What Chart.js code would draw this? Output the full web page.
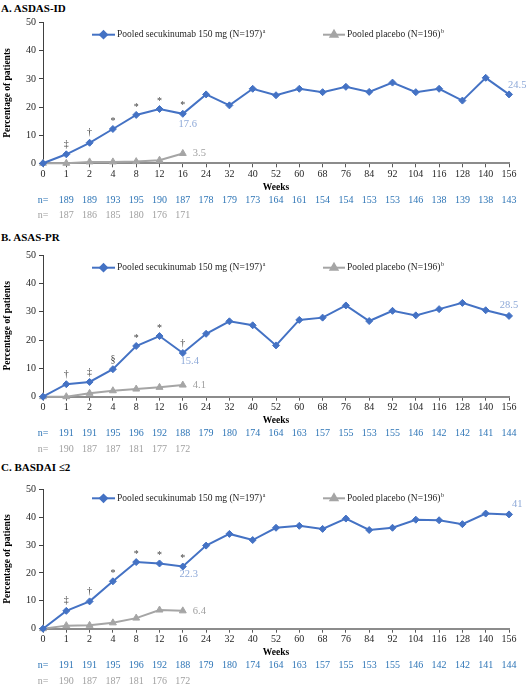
<!DOCTYPE html>
<html>
<head>
<meta charset="utf-8">
<script src="https://cdn.jsdelivr.net/npm/chart.js@4.4.0/dist/chart.umd.min.js"></script>
<style>
    body { margin: 0; background: #fff; width: 528px; height: 685px; position: relative; overflow: hidden; font-family: "Liberation Serif", serif; }
    .panel-title { position: absolute; left: 1px; font-weight: bold; font-size: 11px; line-height: 14px; color: #000; }
    canvas { position: absolute; left: 0; }
</style>
</head>
<body>
<div class="panel-title" style="top:1px">A. ASDAS-ID</div>
<canvas id="chartA" width="528" height="226" style="top:0px"></canvas>
<div class="panel-title" style="top:230px">B. ASAS-PR</div>
<canvas id="chartB" width="528" height="226" style="top:232px"></canvas>
<div class="panel-title" style="top:460px">C. BASDAI ≤2</div>
<canvas id="chartC" width="528" height="219" style="top:466px"></canvas>
<script>
    const weeks = ['0', '1', '2', '4', '8', '12', '16', '24', '32', '40', '52', '60', '68', '76', '84', '92', '104', '116', '128', '140', '156'];

    // A. ASDAS-ID
    const asdasSecu = [0, 3.2, 7.3, 12.2, 17.2, 19.3, 17.6, 24.5, 20.6, 26.5, 24.2, 26.5, 25.3, 27.2, 25.4, 28.7, 25.3, 26.5, 22.3, 30.4, 24.5];
    const asdasPbo = [0, 0, 0.5, 0.5, 0.6, 1.1, 3.5];
    const asdasNSecu = [189, 189, 193, 195, 190, 187, 178, 179, 173, 164, 161, 154, 154, 153, 153, 146, 138, 139, 138, 143];
    const asdasNPbo = [187, 186, 185, 180, 176, 171];
    const asdasSig = ['', '‡', '†', '*', '*', '*', '*'];

    // B. ASAS-PR
    const asasSecu = [0, 4.4, 5.2, 9.7, 17.9, 21.4, 15.4, 22.2, 26.6, 25.2, 18.1, 27.1, 27.9, 32.2, 26.7, 30.3, 28.7, 30.9, 33.1, 30.5, 28.5];
    const asasPbo = [0, 0, 1.2, 2.1, 2.7, 3.3, 4.1];
    const asasNSecu = [191, 191, 195, 196, 192, 188, 179, 180, 174, 164, 163, 157, 155, 153, 155, 146, 142, 142, 141, 144];
    const asasNPbo = [190, 187, 187, 181, 177, 172];
    const asasSig = ['', '†', '‡', '§', '*', '*', '†'];

    // C. BASDAI <=2
    const basdaiSecu = [0, 6.4, 9.8, 17.0, 23.9, 23.4, 22.3, 29.8, 34.0, 31.8, 36.2, 36.9, 35.8, 39.5, 35.4, 36.2, 39.1, 38.9, 37.5, 41.3, 41];
    const basdaiPbo = [0, 1.1, 1.2, 2.1, 3.8, 6.7, 6.4];
    const basdaiNSecu = [191, 191, 195, 196, 192, 188, 179, 180, 174, 164, 163, 157, 155, 153, 155, 146, 142, 142, 141, 144];
    const basdaiNPbo = [190, 187, 187, 181, 176, 172];
    const basdaiSig = ['', '‡', '†', '*', '*', '*', '*'];

    const BLUE = '#4472C4';
    const GREY = '#A5A5A5';
    const FONT = '"Liberation Serif", "Times New Roman", serif';

    // draws legend, significance marks, value labels and the n= rows
    const panelExtras = {
        id: 'panelExtras',
        afterDatasetsDraw: function(chart, args, opts) {
            const ctx = chart.ctx;
            const xs = chart.scales.x;
            const area = chart.chartArea;
            const secuMeta = chart.getDatasetMeta(0);
            const pboMeta = chart.getDatasetMeta(1);
            ctx.save();

            // significance symbols above secukinumab points
            ctx.font = '10px ' + FONT;
            ctx.fillStyle = '#404040';
            ctx.textAlign = 'center';
            ctx.textBaseline = 'middle';
            opts.sig.forEach(function(s, i) {
                if (!s) return;
                const pt = secuMeta.data[i];
                ctx.fillText(s, pt.x, pt.y - (s === '*' ? 8 : 10));
            });

            // value labels
            ctx.font = '10.5px ' + FONT;
            opts.valueLabels.forEach(function(l) {
                const meta = l.ds === 0 ? secuMeta : pboMeta;
                const val = chart.data.datasets[l.ds].data[l.i];
                const pt = meta.data[l.i];
                ctx.fillStyle = l.ds === 0 ? '#8EA9D8' : '#A0A0A0';
                ctx.textAlign = l.align;
                ctx.fillText(String(val), pt.x + l.dx, pt.y + l.dy);
            });

            // legend
            const ly = area.top + opts.legendDy;
            const items = [
                { x0: 92, x1: 115, color: BLUE, style: 'rectRot', r: 3.5, text: 'Pooled secukinumab 150 mg (N=197)', sup: 'a' },
                { x0: 323, x1: 345, color: GREY, style: 'triangle', r: 4, text: 'Pooled placebo (N=196)', sup: 'b' }
            ];
            items.forEach(function(it) {
                ctx.strokeStyle = it.color;
                ctx.lineWidth = 2;
                ctx.beginPath();
                ctx.moveTo(it.x0, ly);
                ctx.lineTo(it.x1, ly);
                ctx.stroke();
                ctx.fillStyle = it.color;
                Chart.helpers.drawPoint(ctx, { pointStyle: it.style, radius: it.r, borderWidth: 1 }, (it.x0 + it.x1) / 2, ly);
                ctx.fillStyle = '#262626';
                ctx.textAlign = 'left';
                ctx.textBaseline = 'middle';
                ctx.font = '9.5px ' + FONT;
                ctx.fillText(it.text, it.x1 + 2, ly);
                const w = ctx.measureText(it.text).width;
                ctx.font = '6px ' + FONT;
                ctx.fillText(it.sup, it.x1 + 2 + w + 0.5, ly - 3);
            });

            // n= rows
            ctx.font = '10px ' + FONT;
            ctx.textAlign = 'center';
            ctx.textBaseline = 'middle';
            const rows = [
                { values: opts.nSecu, color: '#2E75B6', dy: 37 },
                { values: opts.nPbo, color: '#A0A0A0', dy: 52.5 }
            ];
            rows.forEach(function(row) {
                const y = area.bottom + row.dy;
                ctx.fillStyle = row.color;
                ctx.fillText('n=', xs.getPixelForValue(0), y);
                row.values.forEach(function(v, i) {
                    ctx.fillText(String(v), xs.getPixelForValue(i + 1), y);
                });
            });
            ctx.restore();
        }
    };

    function makePanel(id, cfg) {
        const canvas = document.getElementById(id);
        const H = canvas.height;
        return new Chart(canvas, {
            type: 'line',
            data: {
                labels: weeks,
                datasets: [{
                    label: 'Pooled secukinumab 150 mg (N=197)',
                    data: cfg.secu,
                    borderColor: BLUE,
                    backgroundColor: BLUE,
                    borderWidth: 2,
                    pointStyle: 'rectRot',
                    pointRadius: 3.5,
                    pointBorderWidth: 1,
                    tension: 0,
                    clip: false,
                    order: 1
                }, {
                    label: 'Pooled placebo (N=196)',
                    data: cfg.pbo,
                    borderColor: GREY,
                    backgroundColor: GREY,
                    borderWidth: 2,
                    pointStyle: 'triangle',
                    pointRadius: 4,
                    pointBorderWidth: 1,
                    tension: 0,
                    clip: false,
                    order: 2
                }]
            },
            options: {
                responsive: false,
                animation: false,
                layout: {
                    padding: { top: cfg.top, right: 19, bottom: H - cfg.bottom - 29.5, left: 0 }
                },
                plugins: {
                    legend: { display: false },
                    tooltip: { enabled: false },
                    panelExtras: {
                        sig: cfg.sig,
                        nSecu: cfg.nSecu,
                        nPbo: cfg.nPbo,
                        legendDy: cfg.legendDy,
                        valueLabels: cfg.valueLabels
                    }
                },
                scales: {
                    x: {
                        afterFit: function(scale) { scale.height = 29.5; },
                        grid: { drawOnChartArea: false, drawTicks: true, tickLength: 4, color: '#595959' },
                        border: { color: '#8C8C8C', width: 2 },
                        ticks: { autoSkip: false, maxRotation: 0, padding: 1, color: '#262626', font: { family: FONT, size: 10 } },
                        title: { display: true, text: 'Weeks', color: '#000', padding: { top: 0, bottom: 0 }, font: { family: FONT, size: 9.5, weight: 'bold' } }
                    },
                    y: {
                        min: 0,
                        max: 50,
                        afterFit: function(scale) { scale.width = 43; },
                        grid: { drawOnChartArea: false, drawTicks: true, tickLength: 4, color: '#404040' },
                        border: { color: '#404040', width: 1 },
                        ticks: { stepSize: cfg.step, padding: 3, color: '#262626', font: { family: FONT, size: 10 } },
                        title: { display: true, text: 'Percentage of patients', color: '#000', padding: { top: 2, bottom: 0 }, font: { family: FONT, size: 9.5, weight: 'bold' } }
                    }
                }
            },
            plugins: [panelExtras]
        });
    }

    makePanel('chartA', {
        secu: asdasSecu, pbo: asdasPbo, nSecu: asdasNSecu, nPbo: asdasNPbo, sig: asdasSig,
        top: 22.7, bottom: 163.3, step: 5, legendDy: 12,
        valueLabels: [
            { ds: 0, i: 6, dx: 5, dy: 10, align: 'center' },
            { ds: 1, i: 6, dx: 10, dy: 0, align: 'left' },
            { ds: 0, i: 20, dx: -1, dy: -9, align: 'left' }
        ]
    });
    makePanel('chartB', {
        secu: asasSecu, pbo: asasPbo, nSecu: asasNSecu, nPbo: asasNPbo, sig: asasSig,
        top: 23, bottom: 164.7, step: 5, legendDy: 12.7,
        valueLabels: [
            { ds: 0, i: 6, dx: 7, dy: 8, align: 'center' },
            { ds: 1, i: 6, dx: 10, dy: 0, align: 'left' },
            { ds: 0, i: 20, dx: 0, dy: -11, align: 'center' }
        ]
    });
    makePanel('chartC', {
        secu: basdaiSecu, pbo: basdaiPbo, nSecu: basdaiNSecu, nPbo: basdaiNPbo, sig: basdaiSig,
        top: 23.3, bottom: 162.7, step: 10, legendDy: 9,
        valueLabels: [
            { ds: 0, i: 6, dx: 6, dy: 8, align: 'center' },
            { ds: 1, i: 6, dx: 10, dy: 0, align: 'left' },
            { ds: 0, i: 20, dx: 3, dy: -10, align: 'left' }
        ]
    });
</script>
</body>
</html>
